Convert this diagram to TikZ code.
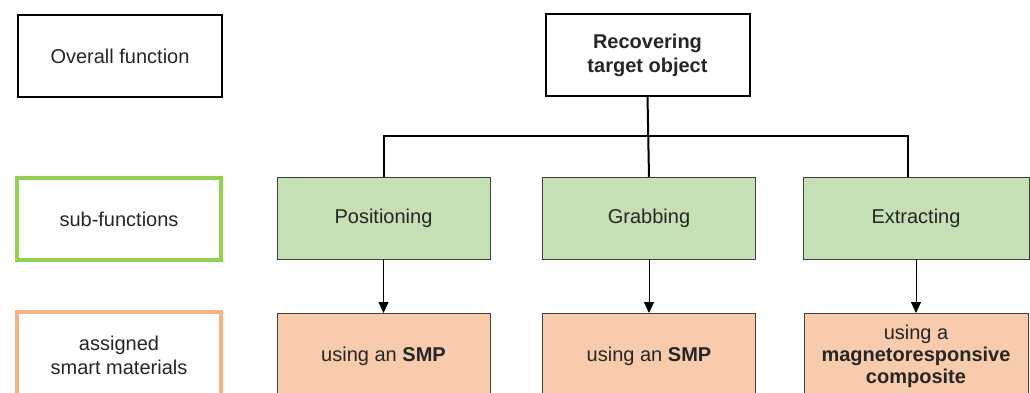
\documentclass[tikz,border=0pt]{standalone}
\usepackage{fontspec}
\setmainfont{Liberation Sans}
\usetikzlibrary{arrows.meta}
\definecolor{subfill}{HTML}{C5E0B4}
\definecolor{subedge}{HTML}{92D050}
\definecolor{matfill}{HTML}{F8CBAD}
\definecolor{matedge}{HTML}{F4B183}
\tikzset{
  box/.style={
    minimum width=102pt,
    minimum height=41pt,
    inner sep=0mm,
    outer sep=0mm,
    align=center,
    text=black!85,
    font=\fontsize{10}{12}\selectfont
  },
  head/.style={box, draw=black, line width=1pt},
  legend/.style={box, line width=1.6pt},
  fun/.style={box, draw=black!75, line width=0.5pt, fill=subfill, minimum width=106.5pt},
  mat/.style={box, draw=black!75, line width=0.5pt, fill=matfill, minimum width=106.5pt, minimum height=43pt},
  link/.style={draw=black, line width=1pt},
  pointer/.style={draw=black, line width=0.5pt, -{Triangle[width=5pt,length=5.5pt]}}
}

\begin{document}
\begin{tikzpicture}[x=0.5pt,y=-0.5pt]
    \useasboundingbox (0,0) rectangle (1030,392);
    \clip (0,0) rectangle (1030,392);
    % left column
    \node[head] (overall) at (120,56) {Overall function};
    \node[legend,draw=subedge] (sublabel) at (119,219) {sub-functions};
    \node[legend,draw=matedge,minimum height=43pt] (matlabel) at (119,355) {assigned\\smart materials};
    % tree
    \node[head,font=\fontsize{10}{12}\selectfont\bfseries] (recover) at (647.5,55) {Recovering\\target object};
    \node[fun] (pos) at (383.5,218) {Positioning};
    \node[fun] (grab) at (649,218) {Grabbing};
    \node[fun,minimum width=113pt] (ext) at (916,218) {Extracting};
    \node[mat] (posmat) at (383.5,356) {using an \textbf{SMP}};
    \node[mat] (grabmat) at (649,356) {using an \textbf{SMP}};
    \node[mat,minimum width=112pt,font=\fontsize{10}{11}\selectfont] (extmat) at (916,356) {using a\\\textbf{magnetoresponsive}\\\textbf{composite}};
    \coordinate (split) at (647.5,136);
    \coordinate (extin) at ([xshift=-4pt]ext.north);
    \draw[link] (recover.south) -- (grab.north);
    \draw[link] (pos.north) |- (split) -| (extin);
    \draw[pointer] (pos) -- (posmat);
    \draw[pointer] (grab) -- (grabmat);
    \draw[pointer] (ext) -- (extmat);
\end{tikzpicture}
\end{document}
